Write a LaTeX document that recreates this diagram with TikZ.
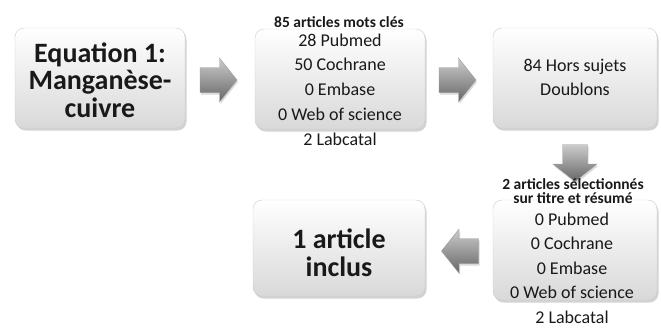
\documentclass[tikz,border=0pt]{standalone}
\usepackage{fontspec}
\setmainfont{Carlito}
\usetikzlibrary{shadows}
\tikzset{
  stepbox/.style={rounded corners=9pt, draw=black!20, top color=white, bottom color=black!15,
    minimum width=170pt, minimum height=100pt, inner sep=0pt,
    drop shadow={shadow xshift=1.5pt, shadow yshift=-2.5pt, opacity=0.35}},
  bigtxt/.style={font=\bfseries\fontsize{28}{27.5}\selectfont, align=center, text=black!90, inner sep=0pt},
  itemtxt/.style={font=\fontsize{18}{20}\selectfont, anchor=mid, text=black!90, inner sep=0pt},
  headtxt/.style={font=\bfseries\fontsize{15.5}{14.5}\selectfont, align=center, text=black!90, inner sep=0pt},
  blockarrow/.style={draw=black!38, top color=black!20, bottom color=black!60,
    drop shadow={shadow xshift=1pt, shadow yshift=-2pt, opacity=0.3}}
}
\begin{document}
\begin{tikzpicture}[x=1pt,y=-1pt]
\useasboundingbox (0,0) rectangle (661,327);
% boxes
\node[stepbox] (eq) at (100,78) {};
\node[stepbox] (mots) at (340,79) {};
\node[stepbox, minimum width=164pt] (hors) at (575,78) {};
\node[stepbox, minimum width=164pt] (selec) at (575,250) {};
\node[stepbox, minimum width=172pt, minimum height=96pt] (inclus) at (339,248) {};
% arrows
\foreach \pos/\rot in {{(218.5,80)}/0, {(457.5,80)}/0, {(575,163)}/-90, {(460,251)}/180}
  \draw[blockarrow, shift={\pos}, rotate=\rot] (-18.5,-12.5) -- (1,-12.5) -- (1,-22) -- (18.5,0)
    -- (1,22) -- (1,12.5) -- (-18.5,12.5) -- cycle;
% texts
\node[bigtxt] (eqtxt) at (eq.center |- 0,80) {Equation 1:\\Manganèse-\\cuivre};
\node[bigtxt] (inctxt) at (inclus.center |- 0,253) {1 article\\inclus};
\node[headtxt] (motshead) at (339,22) {85 articles mots clés};
\foreach \txt [count=\i] in {28 Pubmed,50 Cochrane,0 Embase,0 Web of science,2 Labcatal}
  \node[itemtxt] (mots\i) at (340,19+24.8*\i) {\txt};
\node[itemtxt] (hors1) at (575,69) {84 Hors sujets};
\node[itemtxt] (hors2) at (575,93) {Doublons};
\node[headtxt] (selechead) at (573,191) {2 articles sélectionnés\\sur titre et résumé};
\foreach \txt [count=\i] in {0 Pubmed,0 Cochrane,0 Embase,0 Web of science,2 Labcatal}
  \node[itemtxt] (selec\i) at (572,198.5+24.5*\i) {\txt};
\end{tikzpicture}
\end{document}
